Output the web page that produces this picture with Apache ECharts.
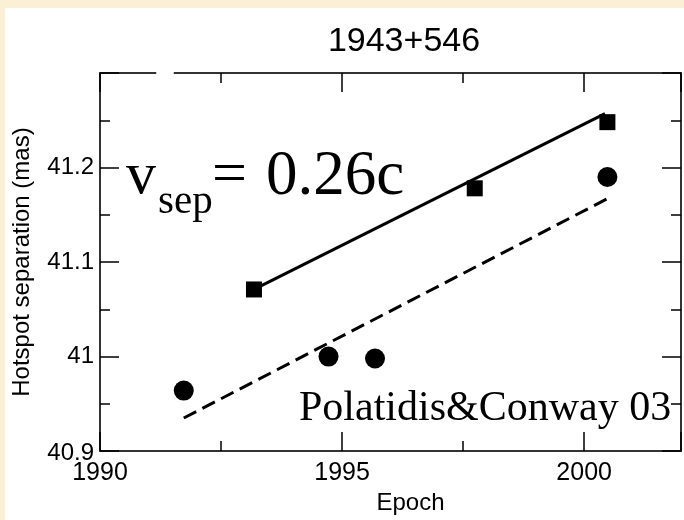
<!DOCTYPE html>
<html>
<head>
<meta charset="utf-8">
<script src="https://cdn.jsdelivr.net/npm/echarts@6/dist/echarts.min.js"></script>
<style>
  html, body { margin: 0; padding: 0; background: #fbefd5; }
  #chart { width: 684px; height: 520px; }
</style>
</head>
<body>
<div id="chart"></div>
<script>
// Hotspot separation of 1943+546 versus epoch
const chartTitle = '1943+546';
const xName = 'Epoch';
const yName = 'Hotspot separation (mas)';
const xTickLabels = [1990, 1995, 2000];
const yTickLabels = [40.9, 41.0, 41.1, 41.2];

// square markers
const squareEpochs = [1993.18, 1997.74, 2000.48];
const squareSep = [41.071, 41.178, 41.248];
// circle markers
const circleEpochs = [1991.73, 1994.72, 1995.68, 2000.48];
const circleSep = [40.964, 41.000, 40.998, 41.190];
// linear fits
const solidFitEpochs = [1993.18, 2000.43];
const solidFitSep = [41.071, 41.257];
const dashedFitEpochs = [1991.73, 2000.48];
const dashedFitSep = [40.935, 41.167];

const pairs = (xs, ys) => xs.map((x, i) => [x, ys[i]]);
const inList = (list, v) => list.some(t => Math.abs(t - v) < 1e-6);

const SANS = '"Liberation Sans", Arial, sans-serif';
const SERIF = '"Liberation Serif", "Times New Roman", serif';
const X_MIN = 1990, X_MAX = 2002, Y_MIN = 40.9, Y_MAX = 41.3;

const axisLineStyle = { color: '#333', width: 2 };
const tickStyle = { color: '#000', width: 1.5 };

function xAxisDef(position, interval, tickLen, withLabels, withLine) {
  const ax = {
    type: 'value', position: position, min: X_MIN, max: X_MAX, interval: interval,
    axisLine: { show: withLine, lineStyle: axisLineStyle },
    axisTick: { show: true, inside: true, length: tickLen, lineStyle: tickStyle },
    axisLabel: { show: withLabels },
    splitLine: { show: false }
  };
  if (withLabels) {
    ax.axisLabel = {
      show: true, margin: 10, fontSize: 25, color: '#000', fontFamily: SANS,
      formatter: v => inList(xTickLabels, v) ? String(v) : ''
    };
    ax.name = xName;
    ax.nameLocation = 'middle';
    ax.nameGap = 35;
    ax.nameTextStyle = { fontSize: 24, color: '#000', fontFamily: SANS, padding: [0, 0, 0, 40] };
  }
  return ax;
}

function yAxisDef(position, withLabels) {
  const ax = {
    type: 'value', position: position, min: Y_MIN, max: Y_MAX, interval: 0.1,
    axisLine: { show: true, lineStyle: axisLineStyle },
    axisTick: { show: true, inside: true, length: 19, lineStyle: tickStyle },
    minorTick: { show: true, splitNumber: 2, length: 10, lineStyle: tickStyle },
    axisLabel: { show: false },
    splitLine: { show: false },
    minorSplitLine: { show: false }
  };
  if (withLabels) {
    ax.axisLabel = {
      show: true, margin: 6, fontSize: 24, color: '#000', fontFamily: SANS,
      formatter: v => {
        if (!inList(yTickLabels, v)) return '';
        const s = String(Math.round(v * 10) / 10);
        return Math.abs(v - Y_MIN) < 1e-6 ? '{low|' + s + '}' : s;
      },
      rich: { low: { fontSize: 24, fontFamily: SANS, color: '#000', padding: [4, 0, 0, 0] } }
    };
    ax.name = yName;
    ax.nameLocation = 'middle';
    ax.nameGap = 66;
    ax.nameTextStyle = { fontSize: 24, color: '#000', fontFamily: SANS };
  }
  return ax;
}

const chart = echarts.init(document.getElementById('chart'), null, { renderer: 'canvas' });

chart.setOption({
  backgroundColor: '#fbefd5',
  animation: false,
  grid: { left: 100, top: 73, width: 590, height: 389, show: true, backgroundColor: '#fff', borderWidth: 0 },
  xAxis: [
    xAxisDef('bottom', 5, 19, true, true),
    xAxisDef('bottom', 2.5, 10, false, false),
    xAxisDef('top', 5, 19, false, true),
    xAxisDef('top', 2.5, 10, false, false)
  ],
  yAxis: [yAxisDef('left', true), yAxisDef('right', false)],
  series: [
    {
      type: 'line', data: pairs(solidFitEpochs, solidFitSep), showSymbol: false, symbol: 'none',
      lineStyle: { color: '#000', width: 3, type: 'solid' }, z: 3
    },
    {
      type: 'line', data: pairs(dashedFitEpochs, dashedFitSep), showSymbol: false, symbol: 'none',
      lineStyle: { color: '#000', width: 3, type: [14, 7] }, z: 3
    },
    {
      type: 'scatter', data: pairs(squareEpochs, squareSep), symbol: 'rect', symbolSize: 16,
      itemStyle: { color: '#000', opacity: 1 }, z: 4
    },
    {
      type: 'scatter', data: pairs(circleEpochs, circleSep), symbol: 'circle', symbolSize: 20,
      itemStyle: { color: '#000', opacity: 1 }, z: 4
    }
  ],
  graphic: [
    // white page behind the plot
    { type: 'rect', z: -100, silent: true, shape: { x: 5, y: 8, width: 679, height: 512 }, style: { fill: '#fff' } },
    // small white patch over the top frame
    { type: 'ellipse', z: 50, silent: true, shape: { cx: 165, cy: 73, rx: 9, ry: 3 }, style: { fill: '#fff' } },
    {
      type: 'text', z: 50, silent: true,
      style: { text: chartTitle, x: 404, y: 42, align: 'center', verticalAlign: 'middle', font: '34px ' + SANS, fill: '#000' }
    },
    {
      type: 'text', z: 50, silent: true,
      style: { text: 'v', x: 126, y: 177, align: 'left', verticalAlign: 'middle', font: '60px ' + SERIF, fill: '#000' }
    },
    {
      type: 'text', z: 50, silent: true,
      style: { text: 'sep', x: 158, y: 202, align: 'left', verticalAlign: 'middle', font: '41px ' + SERIF, fill: '#000' }
    },
    {
      type: 'text', z: 50, silent: true,
      style: { text: '=', x: 212, y: 177, align: 'left', verticalAlign: 'middle', font: '62px ' + SERIF, fill: '#000' }
    },
    {
      type: 'text', z: 50, silent: true,
      style: { text: '0.26c', x: 266, y: 177, align: 'left', verticalAlign: 'middle', font: '63px ' + SERIF, fill: '#000' }
    },
    {
      type: 'text', z: 50, silent: true,
      style: { text: 'Polatidis&Conway 03', x: 299, y: 409, align: 'left', verticalAlign: 'middle', font: '42px ' + SERIF, fill: '#000' }
    }
  ]
});
</script>
</body>
</html>
